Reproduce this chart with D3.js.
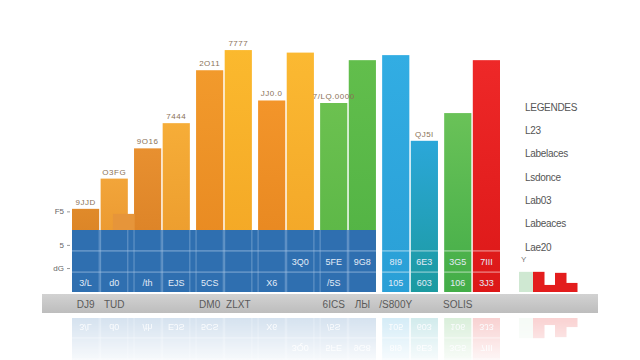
<!DOCTYPE html>
<html>
<head>
<meta charset="utf-8">
<script src="https://cdn.jsdelivr.net/npm/d3@7"></script>
<style>
  body { margin: 0; background: #fff; }
  svg { display: block; font-family: "Liberation Sans", "DejaVu Sans", sans-serif; }
</style>
</head>
<body>
<svg id="chart" width="640" height="360"></svg>
<script>
const groups = ["g1", "g2", "g3", "g4", "g5", "g6", "g7"];
const series = ["left", "right"];
const leftValues  = [33, 57, 88, 76, 75, 94, 71];
const rightValues = [45, 67, 96, 95, 92, 60, 92];
const extraValue = 31;               // small overlay bar in the first group
const leftLabels  = ["9JJD", "9O16", "2O11", "JJ0.0", "7/LQ.0000", "", ""];
const rightLabels = ["O3FG", "7444", "7777", "", "", "QJ5I", ""];
const row2Left  = ["", "", "", "", "5FE", "8I9", "3G5"];
const row2Right = ["", "", "", "3Q0", "9G8", "6E3", "7III"];
const row3Left  = ["3/L", "/th", "5CS", "X6", "/5S", "105", "106"];
const row3Right = ["d0", "EJS", "", "", "", "603", "3J3"];
const axisLeftLabels  = ["DJ9", "", "DM0", "", "6ICS", "/S800Y", "SOLIS"];
const axisRightLabels = ["TUD", "", "ZLXT", "", "ЛЫ", "", ""];
const yTickValues = [9.5, 18.7, 32];
const yTickLabels = ["dG", "5", "F5"];
const tableRows = [7.9, 16.3];
const tableTop = 24.6;
const legendLabels = ["LEGENDES", "L23", "Labelaces", "Lsdonce", "Lab03", "Labeaces", "Lae20"];
const miniKeys = ["m1", "m2", "m3", "m4"];
const miniValues = [8, 2.8, 7.6, 3.6];
const miniBoxValue = 8;
const tableGroups = 5;               // groups covered by the blue table band

// colours (top, bottom) per bar
const leftColors = [
  ["#e08a2a", "#d27a20"], ["#e89030", "#d67c22"], ["#f29a2c", "#e6861f"],
  ["#f3952a", "#e4841e"], ["#6cc150", "#57b444"], ["#32ade3", "#2a9fd6"],
  ["#6ac258", "#43ad48"]
];
const rightColors = [
  ["#f2a53a", "#e48e28"], ["#f6ad38", "#e8962a"], ["#fbb92e", "#f2a424"],
  ["#fbb932", "#f1a326"], ["#62be4c", "#4fb143"], ["#2ba7d9", "#1c9aa0"],
  ["#ee2828", "#dc1818"]
];

const svg = d3.select("#chart");
const defs = svg.append("defs");

const x = d3.scaleBand().domain(groups).range([72, 500]).paddingInner(0.1).paddingOuter(0);
const xIn = d3.scaleBand().domain(series).range([0, x.bandwidth()]).paddingInner(0.05);
const y = d3.scaleLinear().domain([0, 100]).range([292, 40]);

const bars = [];
groups.forEach((g, i) => {
    bars.push({g, s: "left", i, v: leftValues[i], c: leftColors[i], label: leftLabels[i],
               r2: row2Left[i], r3: row3Left[i], ax: axisLeftLabels[i]});
    bars.push({g, s: "right", i, v: rightValues[i], c: rightColors[i], label: rightLabels[i],
               r2: row2Right[i], r3: row3Right[i], ax: axisRightLabels[i]});
});
const bx = d => x(d.g) + xIn(d.s);
const bcx = d => bx(d) + xIn.bandwidth() / 2;

bars.forEach((d, k) => {
    const gr = defs.append("linearGradient").attr("id", "bg" + k)
        .attr("x1", 0).attr("y1", 0).attr("x2", 0).attr("y2", 1);
    gr.append("stop").attr("offset", "0%").attr("stop-color", d.c[0]);
    gr.append("stop").attr("offset", "100%").attr("stop-color", d.c[1]);
});

const main = svg.append("g").attr("id", "bars");

main.selectAll("rect.bar")
    .data(bars)
    .join("rect")
    .attr("class", "bar")
    .attr("x", bx)
    .attr("y", d => y(d.v))
    .attr("width", xIn.bandwidth())
    .attr("height", d => y(0) - y(d.v))
    .attr("fill", (d, k) => `url(#bg${k})`);

// small overlay bar in the first group
const first = bars[1];
main.append("rect")
    .attr("x", bx(first) + xIn.bandwidth() * 0.45)
    .attr("y", y(extraValue))
    .attr("width", xIn.bandwidth() * 0.8)
    .attr("height", y(0) - y(extraValue))
    .attr("fill", "#e6953a");

// blue table band
const bandX0 = x(groups[0]);
const bandX1 = x(groups[tableGroups - 1]) + x.bandwidth();
main.append("rect")
    .attr("x", bandX0).attr("y", y(tableTop))
    .attr("width", bandX1 - bandX0).attr("height", y(0) - y(tableTop))
    .attr("fill", "#2f6fb0");

const tableBars = bars.filter(d => d.i < tableGroups);
const colEdges = [];
tableBars.forEach(d => { colEdges.push(bx(d)); colEdges.push(bx(d) + xIn.bandwidth()); });
main.selectAll("line.col")
    .data(colEdges.slice(1, -1))
    .join("line")
    .attr("class", "col")
    .attr("x1", d => d).attr("x2", d => d)
    .attr("y1", y(tableTop)).attr("y2", y(0))
    .attr("stroke", "#9cbde0").attr("stroke-opacity", 0.55).attr("stroke-width", 1);

main.selectAll("line.row")
    .data(tableRows)
    .join("line")
    .attr("class", "row")
    .attr("x1", bandX0).attr("x2", bandX1)
    .attr("y1", d => y(d)).attr("y2", d => y(d))
    .attr("stroke", "#a8c6e6").attr("stroke-opacity", 0.7);

// cell dividers on the full coloured bars
const outBars = bars.filter(d => d.i >= tableGroups);
outBars.forEach(d => {
    tableRows.forEach(r => {
        main.append("line")
            .attr("x1", bx(d)).attr("x2", bx(d) + xIn.bandwidth())
            .attr("y1", y(r)).attr("y2", y(r))
            .attr("stroke", "#fff").attr("stroke-opacity", 0.6);
    });
});

// cell texts
main.selectAll("text.r3")
    .data(bars.filter(d => d.r3))
    .join("text")
    .attr("class", "r3")
    .attr("x", bcx).attr("y", y(3.6))
    .attr("dy", "0.35em")
    .attr("text-anchor", "middle")
    .attr("font-size", 9)
    .attr("fill", "#e3ecf7")
    .text(d => d.r3);

main.selectAll("text.r2")
    .data(bars.filter(d => d.r2))
    .join("text")
    .attr("class", "r2")
    .attr("x", bcx).attr("y", y(12))
    .attr("dy", "0.35em")
    .attr("text-anchor", "middle")
    .attr("font-size", 9)
    .attr("fill", "#e3ecf7")
    .text(d => d.r2);

// mini legend bars bottom right
const mx = d3.scaleBand().domain(miniKeys).range([533, 577]).paddingInner(0);
main.append("rect")
    .attr("x", 519).attr("y", y(miniBoxValue))
    .attr("width", 14).attr("height", y(0) - y(miniBoxValue))
    .attr("fill", "#cfe8d2");
main.selectAll("rect.mini")
    .data(miniKeys)
    .join("rect")
    .attr("class", "mini")
    .attr("x", d => mx(d))
    .attr("y", (d, i) => y(miniValues[i]))
    .attr("width", mx.bandwidth() + 0.5)
    .attr("height", (d, i) => y(0) - y(miniValues[i]))
    .attr("fill", "#e31d1d");

// reflection
const fade = defs.append("linearGradient").attr("id", "fadeGrad")
    .attr("x1", 0).attr("y1", 0).attr("x2", 0).attr("y2", 1);
fade.append("stop").attr("offset", "0%").attr("stop-color", "#fff").attr("stop-opacity", 0.22);
fade.append("stop").attr("offset", "100%").attr("stop-color", "#fff").attr("stop-opacity", 0.04);
defs.append("mask").attr("id", "fade").attr("maskUnits", "userSpaceOnUse")
    .attr("x", 0).attr("y", 0).attr("width", 640).attr("height", 360)
    .append("rect").attr("x", 0).attr("y", 313).attr("width", 640).attr("height", 47)
    .attr("fill", "url(#fadeGrad)");
svg.append("g").attr("mask", "url(#fade)")
    .append("use").attr("href", "#bars")
    .attr("transform", "translate(0,610) scale(1,-1)");

// value labels above bars
svg.selectAll("text.val")
    .data(bars.filter(d => d.label))
    .join("text")
    .attr("class", "val")
    .attr("x", bcx).attr("y", d => y(d.v) - 4)
    .attr("text-anchor", "middle")
    .attr("font-size", 8)
    .attr("letter-spacing", 0.5)
    .attr("fill", "#8a7258")
    .text(d => d.label);

// y axis ticks
const yAxis = svg.append("g")
    .attr("transform", "translate(70,0)")
    .call(d3.axisLeft(y).tickValues(yTickValues).tickSize(3)
        .tickFormat((d, i) => yTickLabels[i]));
yAxis.select(".domain").remove();
yAxis.selectAll("line").attr("stroke", "#999");
yAxis.selectAll("text").attr("fill", "#666").attr("font-size", 8)
    .attr("font-family", "Liberation Sans, sans-serif");

// grey axis strip
const gg = defs.append("linearGradient").attr("id", "grey")
    .attr("x1", 0).attr("y1", 0).attr("x2", 0).attr("y2", 1);
gg.append("stop").attr("offset", "0%").attr("stop-color", "#d2d2d2");
gg.append("stop").attr("offset", "100%").attr("stop-color", "#bdbdbd");
svg.append("rect")
    .attr("x", 42).attr("y", 294).attr("width", 556).attr("height", 19)
    .attr("fill", "url(#grey)");

svg.selectAll("text.ax")
    .data(bars.filter(d => d.ax))
    .join("text")
    .attr("class", "ax")
    .attr("x", bcx).attr("y", 304)
    .attr("dy", "0.35em")
    .attr("text-anchor", "middle")
    .attr("font-size", 10)
    .attr("fill", "#5a5a5a")
    .text(d => d.ax);

// legend
const ly = d3.scalePoint().domain(legendLabels).range([107, 247]);
svg.selectAll("text.leg")
    .data(legendLabels)
    .join("text")
    .attr("class", "leg")
    .attr("x", 525).attr("y", d => ly(d))
    .attr("dy", "0.35em")
    .attr("font-size", 10)
    .attr("letter-spacing", -0.3)
    .attr("fill", "#555")
    .text(d => d);
svg.append("text")
    .attr("x", 521).attr("y", 262)
    .attr("font-size", 8).attr("fill", "#777")
    .text("Y");
</script>
</body>
</html>
